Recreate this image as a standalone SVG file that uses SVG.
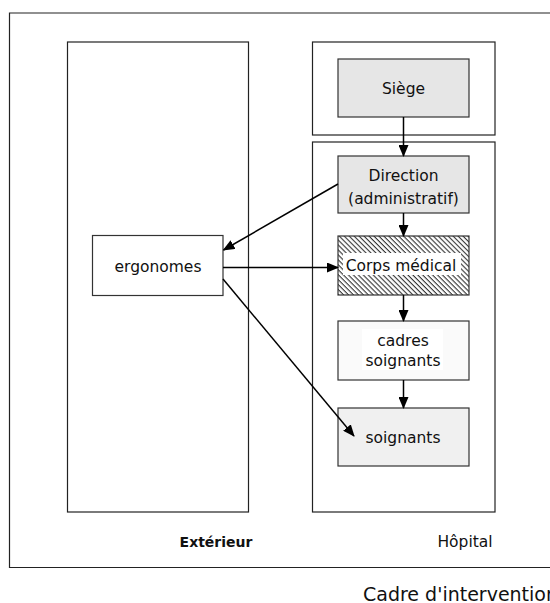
<svg xmlns="http://www.w3.org/2000/svg" width="550" height="603" viewBox="0 0 550 603">
<style>
text{font-family:"DejaVu Sans","Liberation Sans",sans-serif;font-size:15.5px;fill:#111;text-anchor:middle}
.frame{fill:none;stroke:#222;stroke-width:1.2}
.box{stroke:#333;stroke-width:1.2}
.edge{stroke:#000;stroke-width:1.5;fill:none;marker-end:url(#ah)}
</style>
<defs>
<marker id="ah" markerWidth="12" markerHeight="10" refX="11" refY="5" orient="auto" markerUnits="userSpaceOnUse">
<path d="M0,0 L12,5 L0,10 Z" fill="#000"/>
</marker>
<pattern id="hatch" width="3.5" height="3.5" patternUnits="userSpaceOnUse" patternTransform="rotate(45)">
<rect width="3.5" height="3.5" fill="#fff"/>
<rect x="0" y="0" width="3.5" height="1.1" fill="#333"/>
</pattern>
</defs>
<rect fill="#fff" width="550" height="603"/>
<g id="cadre">
<path class="frame" d="M551,13 H9.5 V567.5 H551"/>
<text x="363" y="601" style="text-anchor:start;font-size:19px">Cadre d'intervention</text>
</g>
<g id="exterieur">
<rect class="frame" x="67.5" y="42" width="181" height="470"/>
<text x="216" y="547" style="font-weight:bold;font-size:14px">Extérieur</text>
</g>
<g id="hopital-siege-zone">
<rect class="frame" x="312.5" y="42" width="182.5" height="93"/>
</g>
<g id="hopital">
<rect class="frame" x="312.5" y="142" width="182.5" height="370"/>
<text x="465" y="547">Hôpital</text>
</g>
<g id="siege">
<rect class="box" x="338" y="59" width="131" height="58" fill="#e6e6e6"/>
<text x="403.5" y="94">Siège</text>
</g>
<g id="direction">
<rect class="box" x="338" y="156" width="131" height="57" fill="#e6e6e6"/>
<text x="403.5" y="181">Direction</text>
<text x="403.5" y="204">(administratif)</text>
</g>
<g id="corps-medical">
<rect class="box" x="338" y="236" width="131" height="59" fill="url(#hatch)"/>
<rect x="343" y="253" width="118" height="22" fill="#fff"/>
<text x="401" y="271">Corps médical</text>
</g>
<g id="cadres-soignants">
<rect class="box" x="338" y="321" width="131" height="59" fill="#fafafa"/>
<rect x="362" y="329" width="81" height="41" fill="#fff"/>
<text x="403" y="346">cadres</text>
<text x="403" y="366">soignants</text>
</g>
<g id="soignants">
<rect class="box" x="338" y="408" width="131" height="58" fill="#f0f0f0"/>
<text x="403" y="443">soignants</text>
</g>
<g id="ergonomes">
<rect class="box" x="92.5" y="235.5" width="130.5" height="60" fill="#fff"/>
<text x="158" y="272">ergonomes</text>
</g>
<g id="connectors">
<line class="edge" x1="403.5" y1="117" x2="403.5" y2="156"/>
<line class="edge" x1="403.5" y1="213" x2="403.5" y2="236"/>
<line class="edge" x1="403.5" y1="295" x2="403.5" y2="321"/>
<line class="edge" x1="403.5" y1="380" x2="403.5" y2="408"/>
<line class="edge" x1="338" y1="184" x2="223.5" y2="250"/>
<line class="edge" x1="223" y1="267.5" x2="338" y2="267.5"/>
<line class="edge" x1="223" y1="279" x2="354" y2="436"/>
</g>
</svg>
